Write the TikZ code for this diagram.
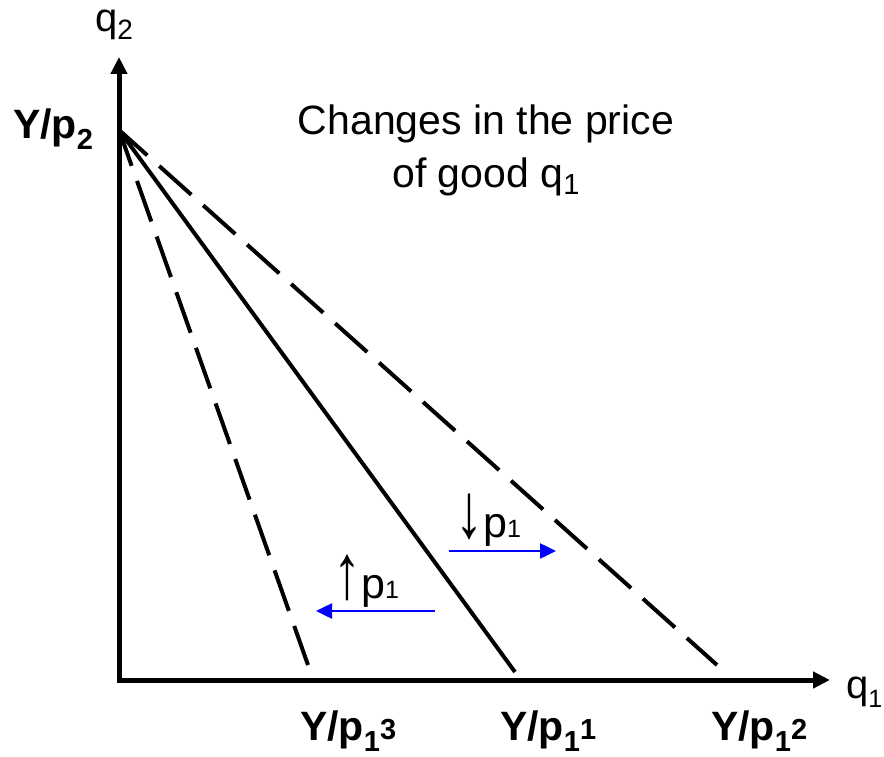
\documentclass[tikz,border=0pt]{standalone}
\usepackage{fontspec}
\usepackage{graphicx}
\setmainfont{Liberation Sans}
\usetikzlibrary{arrows.meta}
\newcommand{\lowsub}[3]{\raisebox{-#1}{\fontsize{#2}{#2}\selectfont #3}}
\newcommand{\upsup}[3]{\raisebox{#1}{\fontsize{#2}{#2}\selectfont #3}}
\newcommand{\tallarrow}[1]{\scalebox{1.3}[1.8]{#1}}
\begin{document}
\begin{tikzpicture}[x=1pt,y=-1pt,
  axis/.style={line width=5pt,-{Triangle[length=17pt,width=16pt]}},
  budget/.style={line width=4pt},
  dashbudget/.style={budget,dash pattern=on 43pt off 16pt,dash phase=5pt},
  pricemove/.style={blue,line width=2.5pt,-{Triangle[length=16pt,width=15pt]}},
  lbl/.style={font=\fontsize{41}{44}\selectfont\bfseries,inner sep=0pt},
  txt/.style={font=\fontsize{41}{52}\selectfont,inner sep=0pt},
  axtxt/.style={font=\fontsize{40}{44}\selectfont,inner sep=0pt,text height=22pt,text depth=12pt},
  plbl/.style={font=\fontsize{43}{48}\selectfont,inner sep=0pt}]
\useasboundingbox (0,0) rectangle (884,757);
\coordinate (top) at (119,57);
\coordinate (right) at (830,680);
\coordinate (A) at (119,130);
\coordinate (B1) at (515,672);
\coordinate (B3) at (308,665);
\coordinate (B2) at (717,665);
\draw[axis] (119,682.5) -- (top);
\draw[axis] (116.5,680) -- (right);
\draw[budget] (A) -- (B1);
\draw[dashbudget] (A) -- (B3);
\draw[dashbudget] (A) -- (B2);
\coordinate (u1) at (449,551); \coordinate (u2) at (556,551);
\coordinate (l1) at (435,611); \coordinate (l2) at (316,611);
\draw[pricemove] (u1) -- (u2);
\draw[pricemove] (l1) -- (l2);
\node[plbl,anchor=base west] (dn) at (455,537) {\tallarrow{↓}p\lowsub{0pt}{25}{1}};
\node[plbl,anchor=base west] (up) at (333,598) {\tallarrow{↑}p\lowsub{0pt}{25}{1}};
\node[txt,align=center,anchor=base] (title) at (486,187) {Changes in the price\\of good q\lowsub{8pt}{29}{1}};
\node[axtxt,anchor=base west] (q2) at (95,32) {q\lowsub{8pt}{28}{2}};
\node[axtxt,anchor=base west] (q1) at (846,698) {q\lowsub{9pt}{25}{1}};
\node[lbl,anchor=base west] (yp2) at (13,139) {Y/p\lowsub{11pt}{29}{2}};
\node[lbl,anchor=base west] (l3) at (300,740) {Y/p\lowsub{11pt}{29}{1}\upsup{1pt}{29}{3}};
\node[lbl,anchor=base west] (l1lab) at (500,740) {Y/p\lowsub{11pt}{29}{1}\upsup{1pt}{29}{1}};
\node[lbl,anchor=base west] (l2lab) at (711,740) {Y/p\lowsub{11pt}{29}{1}\upsup{1pt}{29}{2}};
\end{tikzpicture}
\end{document}
